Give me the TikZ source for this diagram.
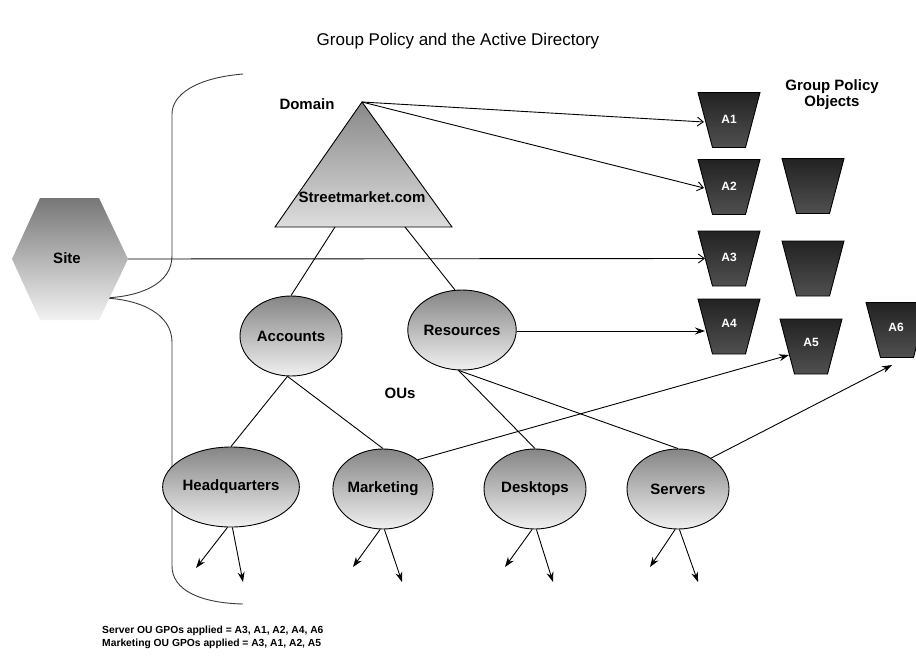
\documentclass[tikz,border=0pt]{standalone}
\usepackage{fontspec}
\setmainfont{Liberation Sans}
\usetikzlibrary{shapes.geometric,arrows.meta,calc}
\definecolor{outop}{HTML}{858585}
\definecolor{oubot}{HTML}{F0F0F0}
\definecolor{gpotop}{HTML}{222222}
\definecolor{gpobot}{HTML}{505050}
\definecolor{tritop}{HTML}{888888}
\definecolor{tribot}{HTML}{DDDDDD}
\definecolor{sitetop}{HTML}{777777}
\definecolor{sitebot}{HTML}{F2F2F2}
\definecolor{bracecol}{HTML}{3A3A3A}
\begin{document}
\begin{tikzpicture}[x=1pt,y=-1pt,
  lbl/.style={font=\fontsize{15}{16}\selectfont\bfseries, inner sep=0pt},
  ou/.style={ellipse, draw=black, line width=0.9pt, top color=outop, bottom color=oubot,
    minimum width=102pt, minimum height=80pt, inner sep=0pt, lbl},
  gpobox/.pic={\draw[line width=0.9pt, top color=gpotop, bottom color=gpobot]
      (-31,-27.5) -- (31,-27.5) -- (16.5,27.5) -- (-16.5,27.5) -- cycle;},
  gpolbl/.style={text=white, font=\fontsize{12}{12}\selectfont\bfseries, inner sep=0pt},
  conn/.style={line width=0.9pt},
  openarr/.style={conn, -{Straight Barb[length=6pt,width=9pt]}},
  fillarr/.style={conn, -{Stealth[length=10pt,width=7pt]}},
  brace/.style={draw=bracecol, line width=0.9pt}
]
\useasboundingbox (0,0) rectangle (916,659);

% title
\node[font=\fontsize{17}{19}\selectfont] (title) at (458,41) {Group Policy and the Active Directory};

% bracket
\draw[brace] (243,74) .. controls (195,78) and (172,95) .. (172,114)
  -- (172,256) .. controls (172,284) and (140,297) .. (103,298)
  .. controls (140,299) and (172,314) .. (172,342)
  -- (172,566) .. controls (172,590) and (200,603) .. (243,604);

% site hexagon
\coordinate (siteE) at (128,259);
\shade[top color=sitetop, bottom color=sitebot] (12,259) -- (40,198) -- (99,198) -- (siteE) -- (99,320) -- (40,320) -- cycle;
\node[lbl] (site) at (67,258) {Site};

% domain triangle
\coordinate (apex) at (362,102);
\coordinate (tbl) at (275,227);
\coordinate (tbr) at (452,227);
\draw[line width=0.9pt, top color=tritop, bottom color=tribot] (apex) -- (tbr) -- (tbl) -- cycle;
\coordinate (tb1) at (335,227);
\coordinate (tb2) at (405,227);
\node[lbl] (dom) at (362,197) {Streetmarket.com};
\node[lbl] (domlbl) at (307,104) {Domain};

% group policy objects
\pic at (729,120) {gpobox};   \node[gpolbl] (a1) at (729,119) {A1};
\pic at (729,187) {gpobox};   \node[gpolbl] (a2) at (729,186) {A2};
\pic at (813,186) {gpobox};
\pic at (729,258.5) {gpobox}; \node[gpolbl] (a3) at (729,257) {A3};
\pic at (813,268.5) {gpobox};
\pic at (729,326.5) {gpobox}; \node[gpolbl] (a4) at (729,323) {A4};
\pic at (811,346.5) {gpobox}; \node[gpolbl] (a5) at (811,342) {A5};
\pic at (897,330) {gpobox};   \node[gpolbl] (a6) at (896,327) {A6};
\node[lbl, align=center] (gpol) at (832,94.5) {Group Policy\\Objects};
\coordinate (a1in) at (704,122);
\coordinate (a2in) at (704,188);
\coordinate (a3in) at (705,258.5);
\coordinate (a4in) at (705,331);
\coordinate (a5in) at (789,355);
\coordinate (a6in) at (892,365);

% OUs
\node[ou] (acc) at (291,336) {Accounts};
\node[ou, minimum width=98pt] (res) at (462,330) {Resources};
\node[lbl] (ous) at (400,393) {OUs};
\node[ou] (hq) at (231,487) {Headquarters};
\node[ou, minimum width=100pt] (mkt) at (383,489) {Marketing};
\node[ou] (dsk) at (535,489) {Desktops};
\node[ou] (srv) at (678,489) {Servers};

% tree lines
\draw[conn] (tb1) -- (acc.north);
\draw[conn] (tb2) -- (res.100);
\draw[conn] (acc.265) -- (hq.north);
\draw[conn] (acc.265) -- (mkt.north);
\draw[conn] (res.265) -- (dsk.north);
\draw[conn] (res.265) -- (srv.north);

% links to GPOs
\draw[openarr] (apex) -- (a1in);
\draw[openarr] (apex) -- (a2in);
\draw[openarr] (siteE) -- (a3in);
\draw[fillarr] (res.east |- a4in) -- (a4in);
\draw[fillarr] (mkt.40) -- (a5in);
\draw[fillarr] (srv.43) -- (a6in);

% downward arrows
\coordinate (hqL) at (196,568);  \coordinate (hqR) at (243,582);
\coordinate (mkL) at (353,567);  \coordinate (mkR) at (402,582);
\coordinate (dsL) at (505,567);  \coordinate (dsR) at (553,582);
\coordinate (svL) at (650,567);  \coordinate (svR) at (698,582);
\draw[fillarr] (hq.265) -- (hqL);  \draw[fillarr] (hq.272) -- (hqR);
\draw[fillarr] (mkt.266) -- (mkL); \draw[fillarr] (mkt.272) -- (mkR);
\draw[fillarr] (dsk.266) -- (dsL); \draw[fillarr] (dsk.272) -- (dsR);
\draw[fillarr] (srv.266) -- (svL); \draw[fillarr] (srv.272) -- (svR);

% summary text
\node[anchor=north west, align=left, inner sep=0pt, font=\fontsize{10.3}{13}\selectfont\bfseries] (summary) at (102,626)
  {Server OU GPOs applied = A3, A1, A2, A4, A6\\Marketing OU GPOs applied = A3, A1, A2, A5};
\end{tikzpicture}
\end{document}
